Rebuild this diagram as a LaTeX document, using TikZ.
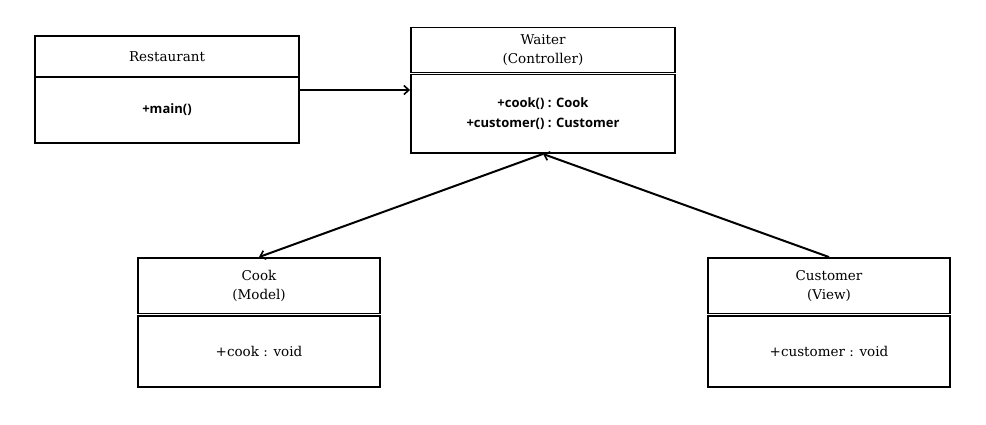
\documentclass[tikz,border=0pt]{standalone}
\usepackage{fontspec}
\setmainfont{DejaVu Serif}
\newfontfamily\sansf{Open Sans}
\usetikzlibrary{arrows.meta}
\tikzset{
  box/.style={draw=black, line width=1.9pt, inner sep=0pt, align=center},
  ttl/.style={font=\fontsize{13.5}{19}\selectfont},
  meth/.style={font=\sansf\bfseries\fontsize{13}{20}\selectfont},
  attr/.style={font=\fontsize{13.5}{19}\selectfont},
  arr/.style={line width=2pt, -{Straight Barb[length=5pt,width=9pt,line width=1.6pt]}}
}
\begin{document}
\begin{tikzpicture}[x=1pt,y=-1pt]
\path[use as bounding box, fill=white] (0,0) rectangle (986,424);
% Restaurant
\node[box, ttl, minimum width=264pt, minimum height=41pt] (rh) at (167,56.5) {Restaurant};
\node[box, meth, minimum width=264pt, minimum height=66pt] (rb) at (167,110) {+main()};
% Waiter
\node[box, ttl, minimum width=264pt, minimum height=45pt] (wh) at (543,50) {Waiter\\(Controller)};
\node[box, meth, minimum width=264pt, minimum height=78.5pt] (wb) at (543,113.75) {+cook() : Cook\\+customer() : Customer};
% Cook
\node[box, ttl, minimum width=242pt, minimum height=55.5pt] (ch) at (259,285.75) {Cook\\(Model)};
\node[box, attr, minimum width=242pt, minimum height=71pt] (cb) at (259,351.5) {+cook : void};
% Customer
\node[box, ttl, minimum width=242pt, minimum height=55.5pt] (uh) at (829,285.75) {Customer\\(View)};
\node[box, attr, minimum width=242pt, minimum height=71pt] (ub) at (829,351.5) {+customer : void};
% connectors
\coordinate (ra) at ([yshift=20pt]rb.east);
\draw[arr] (ra) -- (ra -| wb.west);
\draw[arr] (wb.south) -- (ch.north);
\draw[arr] (uh.north) -- (wb.south);
\end{tikzpicture}
\end{document}
